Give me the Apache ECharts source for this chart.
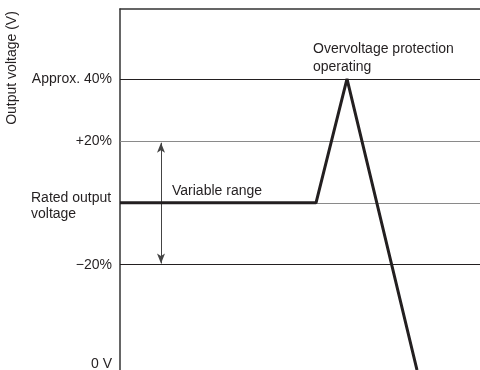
<!DOCTYPE html>
<html><head><meta charset="utf-8">
<script src="https://cdn.jsdelivr.net/npm/echarts@6/dist/echarts.min.js"></script>
<style>html,body{margin:0;padding:0;background:#fff}#c{width:480px;height:370px}</style>
</head><body><div id="c"></div>
<script>
// Output voltage profile (x: arbitrary time units, y: % relative to rated output, 0V at bottom)
var profileX = [120, 316, 347, 417];
var profileY = [0, 0, 40, -54];
// Reference levels (y values) and their tick labels
var levelValues = [40, 20, 0, -20, -52];
var levelLabels = ['Approx. 40%', '+20%', 'Rated output\nvoltage', '\u221220%', '0 V'];
var levelColors = ['#231f20', '#8a8a8a', '#8a8a8a', '#231f20', null];
// Variable range arrow (from +20% to -20%)
var rangeX = 161;
var rangeTop = 19.4;
var rangeBottom = -19.6;

var FONT = 'Liberation Sans, Arial, Helvetica, sans-serif';
var INK = '#231f20';
var FS = 14;

var chart = echarts.init(document.getElementById('c'), null, {renderer: 'canvas'});

var lineData = profileX.map(function (x, i) { return [x, profileY[i]]; });
var gridLines = [];
levelValues.forEach(function (v, i) {
  if (levelColors[i]) {
    gridLines.push({yAxis: v, lineStyle: {color: levelColors[i], width: 1, type: 'solid'}});
  }
});

chart.setOption({
  animation: false,
  grid: {left: 120, top: 9, right: 0, bottom: 0, containLabel: false, outerBoundsMode: 'none'},
  xAxis: {
    type: 'value', min: 120, max: 480, position: 'top',
    axisLine: {show: true, onZero: false, lineStyle: {color: '#333', width: 1.5}},
    axisTick: {show: false}, axisLabel: {show: false}, splitLine: {show: false}
  },
  yAxis: {
    type: 'value', min: -54, max: 62.6,
    axisLine: {show: true, onZero: false, lineStyle: {color: '#333', width: 1.5}},
    axisTick: {show: false, customValues: levelValues},
    splitLine: {show: false},
    axisLabel: {
      show: true, customValues: levelValues, margin: 8,
      fontFamily: FONT, fontSize: FS, color: INK, align: 'right',
      formatter: function (v) {
        var i = levelValues.indexOf(v);
        if (i < 0) return '';
        var t = levelLabels[i];
        if (t.indexOf('\n') >= 0) {
          return t.split('\n').map(function (s, k) { return '{' + (k === 0 ? 'r1' : 'r') + '|' + s + '}'; }).join('\n');
        }
        return t;
      },
      rich: {
        r1: {width: 81, align: 'left', fontFamily: FONT, fontSize: FS, color: INK, lineHeight: 18.5, padding: [10, 0, 0, 0]},
        r: {width: 81, align: 'left', fontFamily: FONT, fontSize: FS, color: INK, lineHeight: 18.5, padding: [4, 0, 0, 0]}
      }
    }
  },
  series: [{
    type: 'line',
    data: lineData,
    symbol: 'none',
    lineStyle: {color: INK, width: 3},
    z: 5,
    markLine: {
      silent: true, symbol: ['none', 'none'], label: {show: false},
      data: gridLines, z: 1
    }
  }, {
    type: 'line',
    data: [],
    markLine: {
      silent: true,
      symbol: ['arrow', 'arrow'], symbolSize: [6, 10],
      label: {show: false},
      lineStyle: {color: '#444', width: 1, type: 'solid'},
      data: [[{coord: [rangeX, rangeTop]}, {coord: [rangeX, rangeBottom]}]]
    }
  }]
});

var pVar = chart.convertToPixel({xAxisIndex: 0, yAxisIndex: 0}, [172, 3.8]);
var pOv = chart.convertToPixel({xAxisIndex: 0, yAxisIndex: 0}, [313, 40]);
chart.setOption({
  graphic: [{
    type: 'text', x: pVar[0], y: pVar[1],
    style: {text: 'Variable range', font: FS + 'px ' + FONT, fill: INK, textVerticalAlign: 'middle'}
  }, {
    type: 'text', x: pOv[0], y: pOv[1] - 3,
    style: {text: 'Overvoltage protection\noperating', font: FS + 'px ' + FONT, fill: INK, lineHeight: 18, textVerticalAlign: 'bottom'}
  }, {
    type: 'text', x: 12, y: 68, rotation: Math.PI / 2,
    style: {text: 'Output voltage (V)', font: FS + 'px ' + FONT, fill: INK, textAlign: 'center', textVerticalAlign: 'middle'}
  }]
});
</script></body></html>
